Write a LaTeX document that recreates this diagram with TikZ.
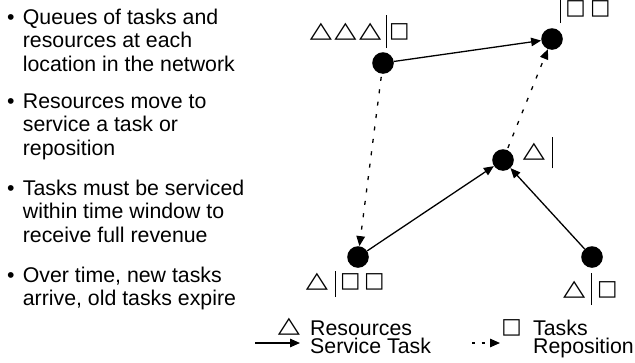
\documentclass[tikz,border=0pt]{standalone}
\usepackage{fontspec}
\setmainfont{Liberation Sans}
\newfontfamily\symfont{DejaVu Sans}
\usetikzlibrary{arrows.meta}
\newcommand{\vb}[2]{\rule[-#1pt]{1pt}{#2pt}}
\newcommand{\tri}{\scalebox{1.29}[1]{\fontsize{22.4}{22.4}\symfont △}}
\newcommand{\sqr}{{\fontsize{21.6}{21.6}\symfont □}}
\newcommand{\twolines}[2]{\vbox{\baselineskip=18pt\lineskiplimit=-100pt\lineskip=0pt\hbox{#1}\hbox{#2}}}
\begin{document}
\begin{tikzpicture}[x=1pt,y=-1pt,
  loc/.style={circle,fill=black,minimum size=21.6pt,inner sep=0pt},
  txt/.style={anchor=base west,inner sep=0pt,font=\fontsize{21.3}{23.5}\selectfont},
  sym/.style={anchor=base west,inner sep=0pt},
  svc/.style={line width=1.3pt,-{Triangle[length=10pt,width=8.5pt]}},
  rep/.style={line width=1.3pt,dash pattern=on 4pt off 8.5pt,-{Triangle[length=10pt,width=8.5pt]}},
  reps/.style={line width=1.3pt,dash pattern=on 3pt off 6.5pt,-{Triangle[length=10pt,width=8.5pt]}},
]
\useasboundingbox (0,0) rectangle (635,362);
% bullet text
\node[txt] (b1) at (7,24) {•};
\node[txt] (t11) at (22.7,24) {Queues of tasks and};
\node[txt] (t12) at (22.7,47.5) {resources at each};
\node[txt] (t13) at (22.7,71) {location in the network};
\node[txt] (b2) at (7,108) {•};
\node[txt] (t21) at (22.7,108) {Resources move to};
\node[txt] (t22) at (22.7,131.5) {service a task or};
\node[txt] (t23) at (22.7,155) {reposition};
\node[txt] (b3) at (7,195) {•};
\node[txt] (t31) at (22.7,195) {Tasks must be serviced};
\node[txt] (t32) at (22.7,218.5) {within time window to};
\node[txt] (t33) at (22.7,242) {receive full revenue};
\node[txt] (b4) at (7,282) {•};
\node[txt] (t41) at (22.7,282) {Over time, new tasks};
\node[txt] (t42) at (22.7,305.5) {arrive, old tasks expire};
% locations
\node[loc] (A) at (383,63) {};
\node[loc] (B) at (552,39) {};
\node[loc] (C) at (503,160) {};
\node[loc] (D) at (358,257) {};
\node[loc] (E) at (592,257) {};
% queue labels
\node[sym] (la) at (309.6,37.5) {\tri\kern2.4pt\tri\kern2.4pt\tri\kern4.35pt\vb{10.5}{33}\kern2.56pt\sqr};
\node[sym] (lb) at (559.5,14.6) {\vb{8.4}{33}\kern4.56pt\sqr\kern4.5pt\sqr};
\node[sym] (lc) at (522.6,157.5) {\tri\kern6.65pt\vb{10.8}{31.6}};
\node[sym] (ld) at (305.6,287.5) {\tri\kern6.65pt\vb{9.5}{26}\kern4.56pt\sqr\kern3.5pt\sqr};
\node[sym] (le) at (562.9,295.8) {\tri\kern6.05pt\vb{9.2}{32}\kern4.86pt\sqr};
% moves
\draw[svc] (A) -- (B);
\draw[rep,shorten <=3pt] (A) -- (D);
\draw[rep,shorten <=2pt] (C) -- (B);
\draw[svc] (D) -- (C);
\draw[svc] (E) -- (C);
% legend
\node[sym] (g1) at (277.6,332.5) {\tri};
\node[sym] (g2) at (501.1,333.5) {\sqr};
\node[txt] (g1t) at (310,353) {\twolines{Resources}{Service Task}};
\node[txt] (g2t) at (533,353) {\twolines{Tasks}{Reposition}};
\coordinate (s0) at (255,343);
\coordinate (s1) at (300,343);
\draw[svc] (s0) -- (s1);
\coordinate (r0) at (472,343);
\coordinate (r1) at (500,343);
\draw[reps] (r0) -- (r1);
\end{tikzpicture}
\end{document}
